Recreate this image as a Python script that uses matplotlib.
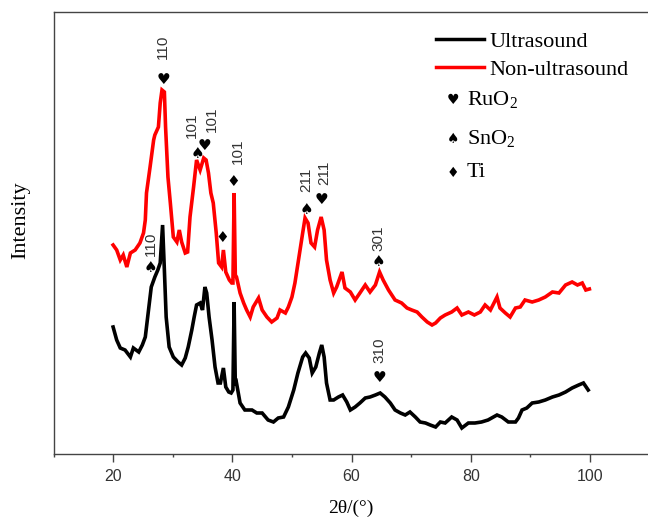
import matplotlib
matplotlib.use("Agg")
import matplotlib.pyplot as plt
from matplotlib.ticker import MultipleLocator

plt.rcParams['mathtext.fontset'] = 'custom'
plt.rcParams['mathtext.rm'] = 'Liberation Serif'
plt.rcParams['mathtext.it'] = 'Liberation Serif'

# ---------------- data ----------------
theta_red = [20.0, 20.6, 21.2, 21.7, 22.3, 22.9, 23.7, 24.5, 25.1, 25.4, 25.6, 26.2, 26.8, 27.0,
             27.6, 27.9, 28.2, 28.6, 28.8, 29.2, 29.6, 30.1, 30.7, 31.1, 31.5, 32.1, 32.5, 32.9,
             33.5, 34.0, 34.6, 35.2, 35.6, 36.0, 36.4, 36.8, 37.3, 37.7, 38.2, 38.5, 38.9, 39.5,
             39.9, 40.1, 40.3, 40.5, 40.7, 41.3, 41.9, 42.4, 43.0, 43.5, 44.4, 45.0, 45.8, 46.6,
             47.5, 48.0, 48.9, 49.4, 50.0, 50.5, 51.1, 51.8, 52.2, 52.7, 53.2, 53.8, 54.3, 54.9,
             55.4, 55.8, 56.4, 57.0, 57.5, 58.4, 58.9, 59.8, 60.6, 61.4, 62.3, 63.1, 64.0, 64.7,
             65.3, 66.2, 67.3, 68.4, 69.3, 70.1, 71.0, 71.8, 72.7, 73.5, 74.1, 74.9, 75.7, 76.8,
             77.7, 78.5, 79.6, 80.6, 81.6, 82.4, 83.3, 84.4, 84.9, 85.8, 86.6, 87.5, 88.3, 89.1,
             90.3, 91.4, 92.5, 93.7, 94.8, 95.9, 97.0, 97.9, 98.7, 99.3, 99.9]
int_red = [209, 204, 194, 199, 187, 201, 204, 211, 221, 234, 261, 287, 314, 319,
           327, 351, 364, 362, 327, 277, 251, 217, 212, 224, 212, 201, 202, 237,
           267, 294, 284, 296, 294, 281, 261, 251, 221, 191, 187, 204, 182, 174,
           171, 171, 261, 179, 177, 161, 151, 144, 137, 147, 156, 144, 137, 132,
           136, 144, 141, 147, 157, 171, 194, 221, 236, 231, 211, 207, 224, 237,
           224, 194, 174, 161, 167, 182, 166, 162, 154, 161, 169, 162, 169, 182,
           174, 164, 154, 151, 146, 144, 142, 137, 132, 129, 131, 136, 139, 142,
           146, 139, 142, 139, 142, 149, 144, 157, 146, 141, 137, 146, 147, 154,
           152, 154, 157, 162, 161, 169, 172, 169, 171, 164, 165]

theta_black = [20.0, 20.6, 21.2, 22.0, 22.9, 23.4, 24.3, 24.9, 25.4, 25.8, 26.4, 27.0, 27.5, 27.9,
               28.3, 28.6, 28.9, 29.4, 30.1, 30.9, 31.5, 32.1, 32.6, 33.2, 33.6, 34.0, 34.6, 35.0,
               35.4, 35.7, 36.1, 36.6, 37.1, 37.6, 38.0, 38.5, 38.9, 39.4, 39.8, 40.1, 40.3, 40.5,
               40.7, 41.3, 42.1, 43.3, 44.1, 45.0, 46.0, 46.9, 47.7, 48.6, 49.4, 50.3, 51.0, 51.8,
               52.3, 52.9, 53.4, 54.0, 54.6, 55.0, 55.4, 55.8, 56.4, 57.0, 57.8, 58.5, 59.2, 59.8,
               60.6, 61.4, 62.3, 63.1, 64.0, 64.8, 65.6, 66.5, 67.3, 68.2, 69.0, 69.8, 70.7, 71.5,
               72.4, 73.2, 74.1, 74.9, 75.7, 76.8, 77.7, 78.5, 79.6, 80.7, 81.8, 82.9, 84.4, 85.2,
               86.3, 87.5, 88.0, 88.6, 89.4, 90.3, 91.4, 92.5, 93.7, 94.8, 95.9, 97.0, 98.1, 98.9,
               99.7]
int_black = [127, 114, 106, 104, 97, 106, 102, 109, 117, 137, 167, 177, 184, 191,
             229, 184, 137, 107, 97, 92, 89, 96, 107, 124, 137, 149, 151, 144,
             167, 161, 137, 114, 87, 71, 71, 86, 67, 62, 61, 64, 152, 69,
             71, 51, 44, 44, 41, 41, 34, 32, 36, 37, 47, 64, 81, 97,
             101, 96, 81, 87, 101, 109, 97, 71, 54, 54, 57, 59, 52, 44,
             47, 51, 56, 57, 59, 61, 57, 51, 44, 41, 39, 42, 37, 32,
             31, 29, 27, 32, 31, 37, 34, 26, 31, 31, 32, 34, 39, 37,
             32, 32, 36, 44, 46, 51, 52, 54, 57, 59, 62, 66, 69, 71,
             64]

# peak annotations: symbol, label, position (2theta, intensity)
peak_symbols = ['♥', '♠', '♥', '♦', '♦', '♠', '♥', '♠', '♠', '♥']
peak_labels = ['110', '101', '101', '101', '', '211', '211', '301', '110', '310']
peak_theta = [28.4, 34.1, 35.4, 40.2, 38.3, 52.4, 55.0, 64.5, 26.3, 64.7]
peak_int = [374, 301, 308, 272, 217, 244, 254, 192, 187, 76]
# label offsets (points): dx, gap above marker
label_dx = [0, -4, 5, 3, 0, 0, 2, 0, 0, 0]
label_gap = [11, 7, 6, 9, 0, 9, 7, 4, 4, 7]

x_ticks = [20, 40, 60, 80, 100]
legend_series = ['Ultrasound', 'Non-ultrasound']
legend_phases = [('♥', 'RuO$_2$'), ('♠', 'SnO$_2$'), ('♦', 'Ti')]

# ---------------- figure ----------------
W, H = 648, 520
fig = plt.figure(figsize=(W / 100, H / 100), dpi=100)
ax = fig.add_axes([53.5 / W, (H - 454) / H, (649.6 - 53.5) / W, 442 / H])

l1, = ax.plot(theta_black, int_black, color='black', lw=2.6, solid_joinstyle='miter')
l2, = ax.plot(theta_red, int_red, color='#ff0000', lw=2.6, solid_joinstyle='miter')

ax.set_xlim(10, 110)
ax.set_ylim(0, 442)
ax.set_xticks(x_ticks)
ax.xaxis.set_minor_locator(MultipleLocator(10))
ax.set_yticks([])
for s in ['left', 'bottom', 'top']:
    ax.spines[s].set_color('#444444')
    ax.spines[s].set_linewidth(1.0)
ax.spines['right'].set_visible(False)
ax.tick_params(axis='x', which='major', direction='out', length=5.5, width=1.0,
               color='#444444', pad=5, labelsize=11.5, labelcolor='#333333')
ax.tick_params(axis='x', which='minor', direction='out', length=2.5, width=1.0, color='#444444')
for lab in ax.get_xticklabels():
    lab.set_fontfamily('Liberation Sans')

ax.set_xlabel('2θ/(°)', fontsize=14, family='Liberation Serif')
ax.xaxis.set_label_coords((351 - 53.5) / 596, (454 - 500) / 442)
ax.set_ylabel('Intensity', fontsize=16, family='Liberation Serif')
ax.yaxis.set_label_coords((30 - 53.5) / 596, (454 - 220) / 442)

for sym, lab, tx, ti, dx, gap in zip(peak_symbols, peak_labels, peak_theta, peak_int,
                                     label_dx, label_gap):
    ax.annotate(sym, (tx, ti), ha='center', va='center', fontsize=11,
                family='DejaVu Sans', color='black')
    if lab:
        ax.annotate(lab, (tx, ti), xytext=(dx, 4 + gap), textcoords='offset points',
                    rotation=90, ha='center', va='bottom', fontsize=11,
                    family='Liberation Sans', color='#333333')

leg = ax.legend([l1, l2], legend_series, loc='upper left', frameon=False,
                bbox_to_anchor=(436 / W, 1 - 31 / H), bbox_transform=fig.transFigure,
                prop={'family': 'Liberation Serif', 'size': 16},
                handlelength=2.15, handletextpad=0.27, labelspacing=0.36,
                borderpad=0, borderaxespad=0)
for h in leg.get_lines():
    h.set_linewidth(2.5)

ys = [100, 139, 173]
for (sym, name), yy in zip(legend_phases, ys):
    fig.text(453 / W, 1 - yy / H, sym, ha='center', va='center', fontsize=10,
             family='DejaVu Sans', color='black')
    fig.text(467 / W, 1 - yy / H, name, ha='left', va='center', fontsize=16,
             family='Liberation Serif', color='black')

fig.savefig('out.png', dpi=100)
